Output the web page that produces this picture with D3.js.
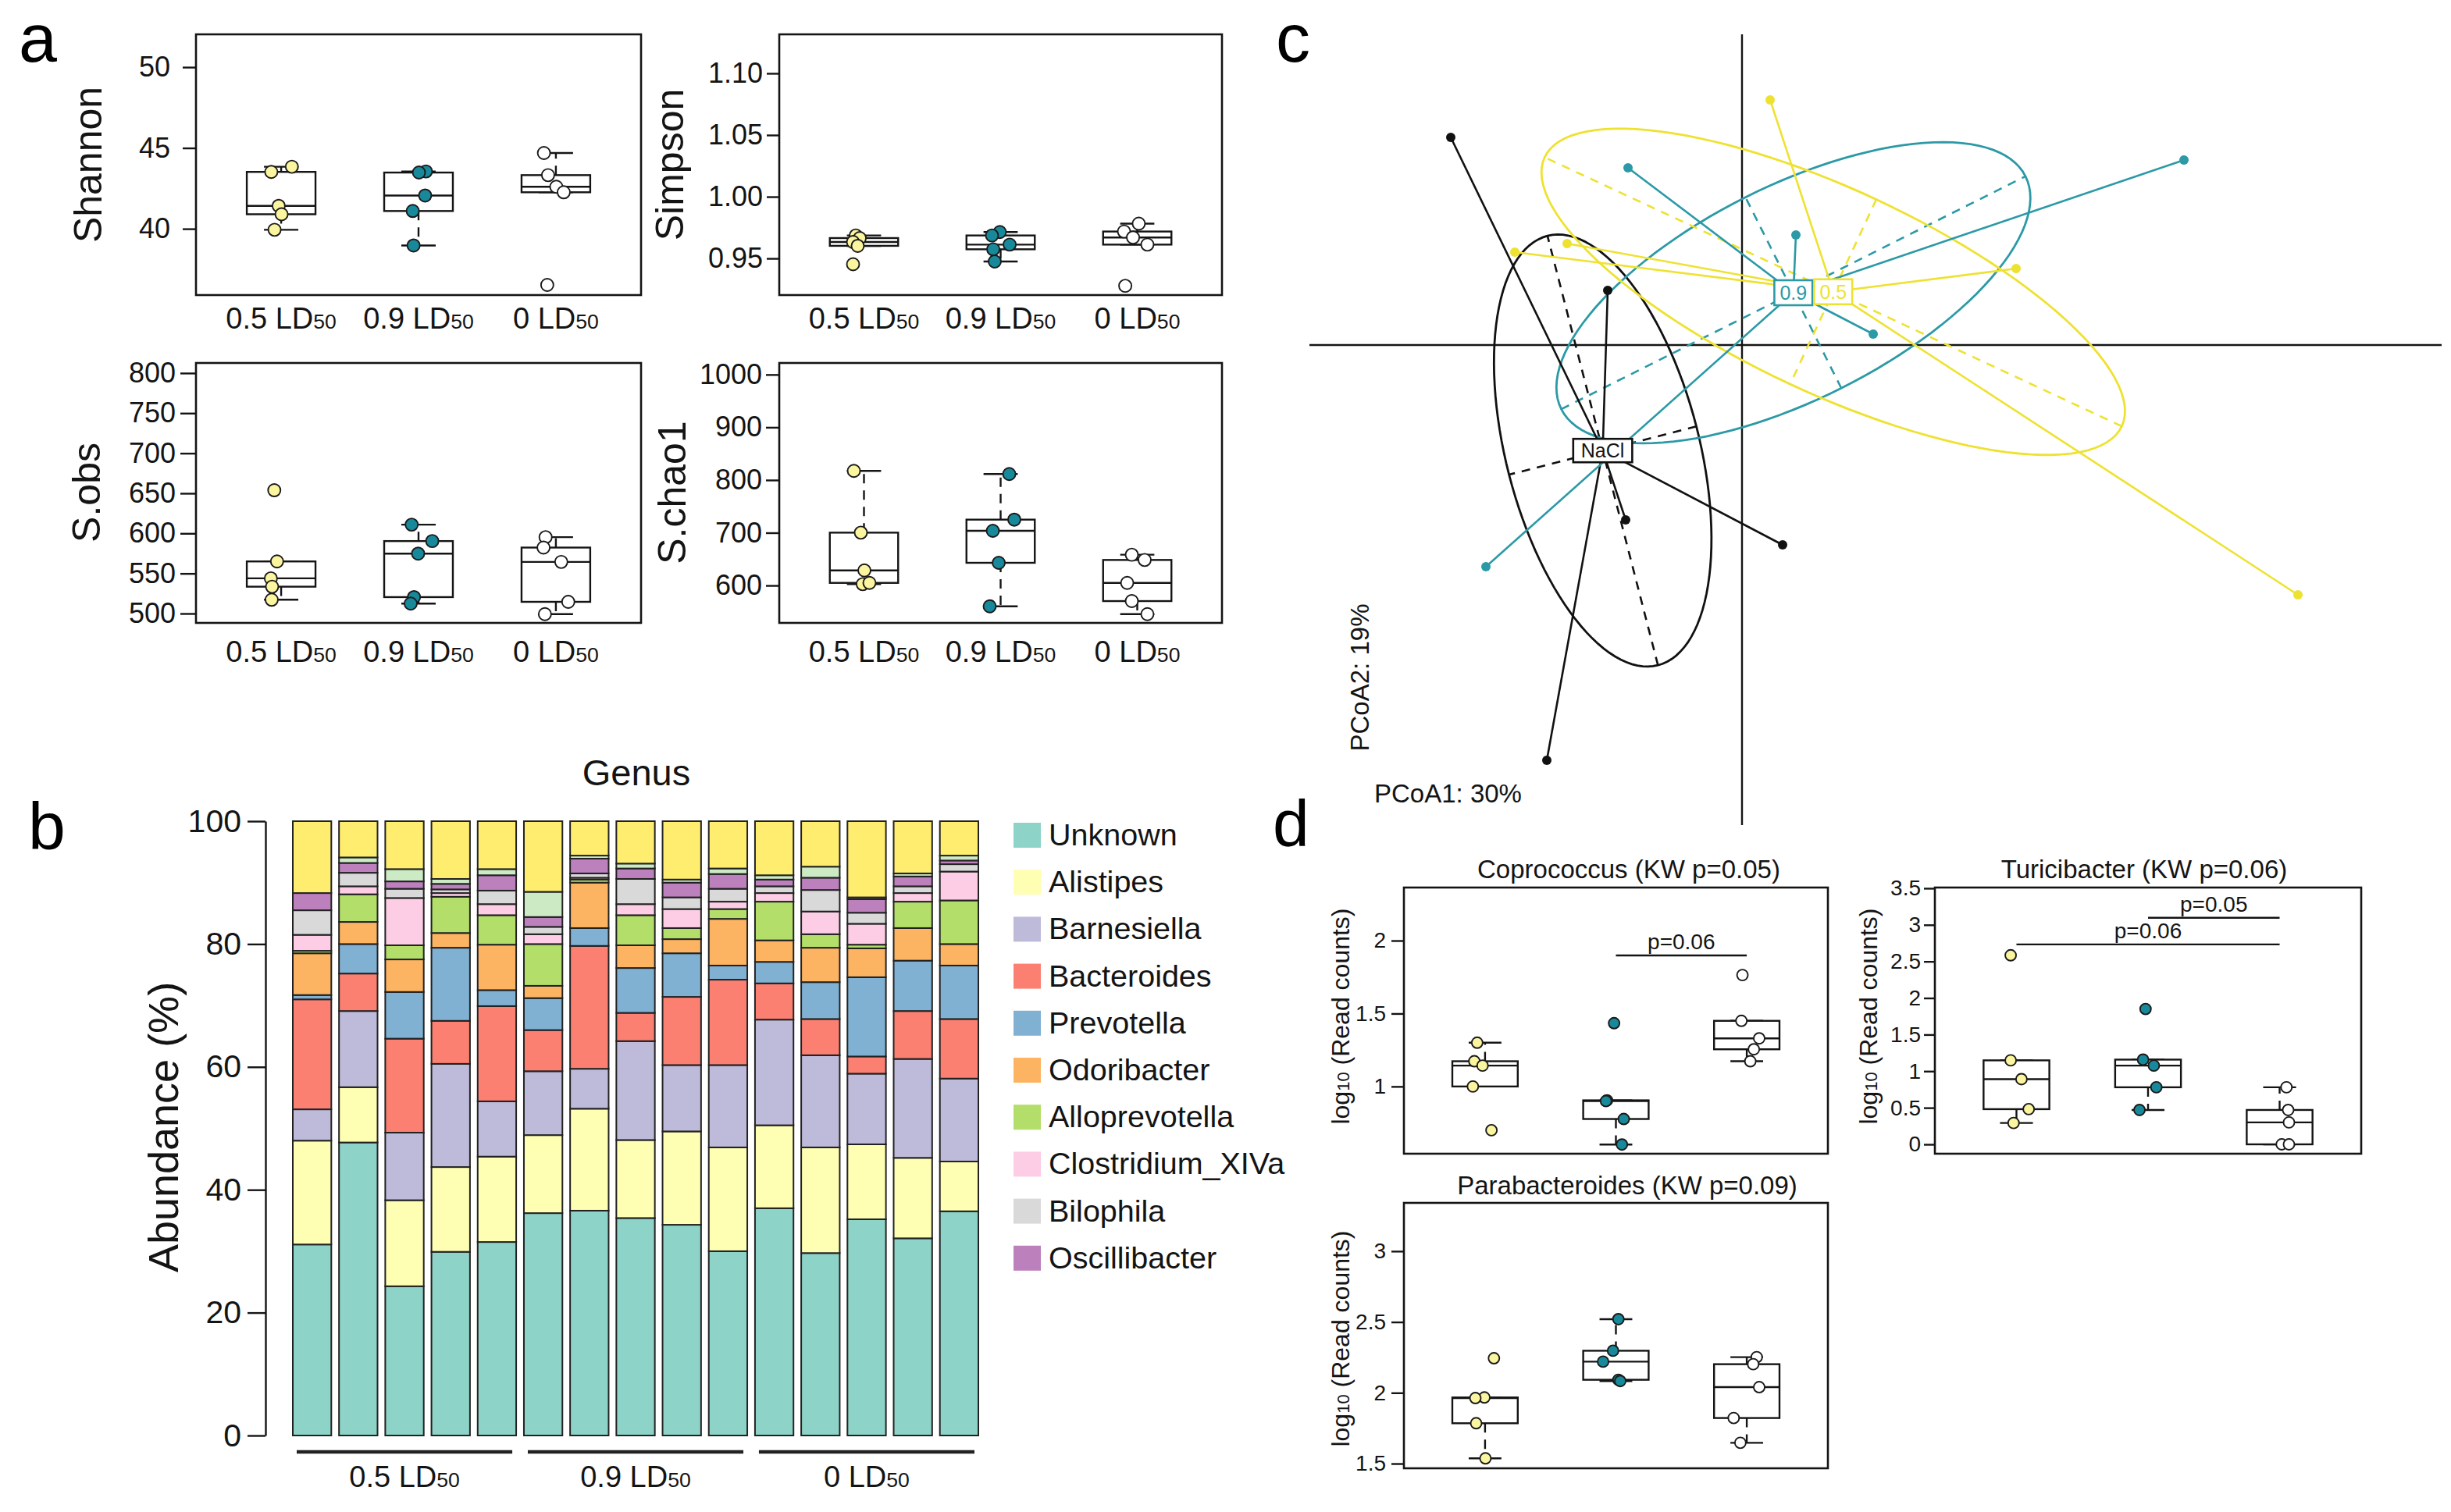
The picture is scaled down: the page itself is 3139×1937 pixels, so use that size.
<!DOCTYPE html>
<html>
<head>
<meta charset="utf-8">
<script src="https://cdn.jsdelivr.net/npm/d3@7/dist/d3.min.js"></script>
<style>
html,body{margin:0;padding:0;background:#fff;}
svg{display:block;}
</style>
</head>
<body>
<svg id="fig" width="3139" height="1937" xmlns="http://www.w3.org/2000/svg"></svg>
<script>
// ===================== DATA =====================
const doseGroups = ["0.5", "0.9", "0"];          // LD50 dose groups

// ---- panel a: alpha diversity (5 mice per group) ----
const shannonVals = [[43.84,43.52,41.42,40.90,39.94],[43.55,43.48,42.06,41.10,38.97],[44.69,43.32,42.60,42.26,36.53]];
const shannonJitter = [[0.078,-0.072,-0.018,0.003,-0.048],[0.054,0.003,0.048,-0.042,-0.036],[-0.087,-0.057,0.003,0.057,-0.063]];
const shannonTicks = [40,45,50];

const simpsonVals = [[0.9686,0.9665,0.9633,0.9602,0.9453],[0.9714,0.9686,0.9574,0.9612,0.9475],[0.9782,0.9718,0.9670,0.9612,0.9278]];
const simpsonJitter = [[-0.06,-0.031,-0.08,-0.046,-0.08],[-0.006,-0.063,-0.054,0.066,-0.043],[0.011,-0.097,-0.031,0.074,-0.088]];
const simpsonTicks = [0.95,1.00,1.05,1.10];

const sobsVals = [[653.8,565.0,543.9,533.5,517.2],[610.9,590.4,574.8,520.5,512.4],[595.3,582.3,564.4,514.6,499.3]];
const sobsJitter = [[-0.05,-0.03,-0.075,-0.066,-0.069],[-0.05,0.1,-0.003,-0.033,-0.057],[-0.075,-0.09,0.039,0.09,-0.08]];
const sobsTicks = [500,550,600,650,700,750,800];

const schaoVals = [[817.3,700.2,628.6,602.5,604.9],[811.4,724.9,703.7,643.0,560.5],[658.3,648.4,604.9,570.4,545.7]];
const schaoJitter = [[-0.074,-0.023,0.003,-0.009,0.04],[0.063,0.1,-0.057,-0.014,-0.08],[-0.04,0.054,-0.074,-0.04,0.074]];
const schaoTicks = [600,700,800,900,1000];

// ---- panel b: genus relative abundance (%), 15 samples ----
const sampleIds = ["S1","S2","S3","S4","S5","S6","S7","S8","S9","S10","S11","S12","S13","S14","S15"];
const sampleGroup = ["0.5","0.5","0.5","0.5","0.5","0.9","0.9","0.9","0.9","0.9","0","0","0","0","0"];
const genusNames = ["Unknown","Alistipes","Barnesiella","Bacteroides","Prevotella","Odoribacter","Alloprevotella","Clostridium_XIVa","Bilophila","Oscillibacter"];
const unknownAb      = [31.1,47.7,24.3,29.9,31.5,36.2,36.6,35.4,34.3,30.0,37.0,29.7,35.2,32.1,36.5];
const alistipesAb    = [16.9,9.0,14.0,13.8,13.9,12.7,16.6,12.7,15.2,16.9,13.5,17.2,12.2,13.1,8.1];
const barnesiellaAb  = [5.1,12.4,11.0,16.8,9.0,10.4,6.5,16.1,10.8,13.4,17.2,15.0,11.5,16.1,13.5];
const bacteroidesAb  = [17.9,6.1,15.3,7.0,15.5,6.7,20.0,4.6,11.1,13.9,5.9,5.9,2.8,7.8,9.7];
const prevotellaAb   = [0.7,4.8,7.6,11.9,2.6,5.2,2.9,7.3,7.1,2.3,3.5,6.0,12.9,8.2,8.7];
const odoribacterAb  = [6.8,3.6,5.3,2.4,7.4,2.0,7.4,3.7,2.3,7.6,3.5,5.6,4.7,5.3,3.5];
const alloprevAb     = [0.4,4.5,2.3,5.9,4.8,6.8,0.5,4.9,1.8,1.6,6.3,2.2,0.6,4.3,7.1];
const clostridiumAb  = [2.6,1.3,7.7,0.6,1.8,1.6,0.3,1.8,3.1,1.2,1.4,3.7,3.4,1.4,4.7];
const bilophilaAb    = [4.0,2.2,1.5,0.6,2.2,1.2,0.7,4.1,1.9,2.1,1.1,3.5,1.8,1.1,1.2];
const oscillibactAb  = [2.8,1.6,1.2,0.9,2.5,1.6,2.4,1.7,2.4,2.4,1.1,2.0,2.2,1.6,0.6];
const minorGenusAb   = [0.0,0.9,2.0,0.8,1.0,4.1,0.5,0.8,0.5,0.9,0.7,1.8,0.3,0.5,0.8];
const othersAb       = [11.7,5.9,7.8,9.4,7.8,11.5,5.6,6.9,9.5,7.7,8.8,7.4,12.4,8.5,5.6];
const abundanceTicks = [0,20,40,60,80,100];

// ---- panel c: PCoA ----
const pcoaGroup = ["0","0","0","0","0","0.9","0.9","0.9","0.9","0.9","0.5","0.5","0.5","0.5","0.5"];
const pcoa1 = [-0.373,-0.172,-0.149,0.052,-0.250, -0.146,0.069,0.566,0.168,-0.328, 0.036,-0.291,-0.224,0.351,0.712];
const pcoa2 = [0.266,0.070,-0.224,-0.256,-0.532, 0.227,0.141,0.237,0.014,-0.284, 0.314,0.119,0.130,0.098,-0.320];
const centroidNames = {"0":"NaCl","0.9":"0.9","0.5":"0.5"};
const pcoaAxisTitles = ["PCoA1: 30%","PCoA2: 19%"];

// ---- panel d: log10 read counts ----
const coproVals = [[1.30,1.173,1.143,1.00,0.70],[1.434,0.905,0.900,0.777,0.602],[1.764,1.45,1.33,1.255,1.173]];
const coproJitter = [[-0.06,-0.082,-0.019,-0.093,0.049],[-0.014,-0.068,-0.076,0.06,0.046],[-0.033,-0.041,0.095,0.054,0.027]];
const coproTicks = [1,1.5,2];
const coproSig = [{from:2,to:3,at:1.898,label:"p=0.06"}];

const turiVals = [[2.584,1.148,0.891,0.481,0.292],[1.85,1.158,1.076,0.78,0.47],[0.78,0.47,0.30,0,0]];
const turiJitter = [[-0.044,-0.044,0.038,0.093,-0.022],[-0.019,-0.038,0.044,0.063,-0.065],[0.052,0.065,0.071,0.016,0.071]];
const turiTicks = [0,0.5,1,1.5,2,2.5,3,3.5];
const turiSig = [{from:1,to:3,at:2.733,label:"p=0.06"},{from:2,to:3,at:3.097,label:"p=0.05"}];

const paraVals = [[2.244,1.967,1.963,1.785,1.537],[2.52,2.297,2.22,2.092,2.083],[2.252,2.202,2.04,1.822,1.647]];
const paraJitter = [[0.068,-0.005,-0.074,-0.068,0.003],[0.019,-0.022,-0.098,0.019,0.033],[0.076,0.049,0.095,-0.1,-0.049]];
const paraTicks = [1.5,2,2.5,3];

// ===================== STYLE =====================
const FONT = "Arial, 'Liberation Sans', Helvetica, sans-serif";
const INK = "#141414";
const groupFill = ["#FAF59E", "#17899A", "#FFFFFF"];
const genusColors = ["#8DD3C7","#FFFFB3","#BEBADA","#FB8072","#80B1D3","#FDB462","#B3DE69","#FCCDE5","#D9D9D9","#BC80BD","#CCEBC5","#FFED6F"];
const pcoaColors = {"0":"#111111","0.9":"#2B9AA6","0.5":"#EEE231"};

const svg = d3.select("#fig");
svg.append("rect").attr("width",3139).attr("height",1937).attr("fill","#fff");

function fivenum(a){
  const s=a.slice().sort((p,q)=>p-q), n=s.length;
  const n4=Math.floor((n+3)/2)/2;
  const d=[1,n4,(n+1)/2,n+1-n4,n];
  return d.map(v=>0.5*(s[Math.floor(v)-1]+s[Math.ceil(v)-1]));
}

function ldText(sel, dose, fs){
  sel.append("tspan").text(dose+" LD");
  sel.append("tspan").attr("font-size",fs*0.7).text("50");
}

function rotTitle(parent, cx, cy, fs, build){
  const t = parent.append("text").attr("transform",`translate(${cx},${cy}) rotate(-90)`)
    .attr("text-anchor","middle").attr("dy","0.35em").attr("font-size",fs).attr("font-family",FONT).attr("fill",INK);
  build(t);
  return t;
}

function boxPanel(cfg){
  const g = svg.append("g");
  const x = d3.scaleLinear().domain([0.38,3.62]).range([cfg.x0,cfg.x1]);
  const y = d3.scaleLinear().domain(cfg.domain).range([cfg.y1,cfg.y0]);
  const ax = g.append("g").attr("transform",`translate(${cfg.x0},0)`)
    .call(d3.axisLeft(y).tickValues(cfg.ticks).tickFormat(cfg.fmt).tickSize(cfg.tickLen).tickPadding(cfg.tickPad));
  ax.select(".domain").remove();
  ax.attr("font-family",FONT).attr("font-size",cfg.tickFs);
  ax.selectAll(".tick line").attr("stroke",INK).attr("stroke-width",2.4);
  ax.selectAll(".tick text").attr("fill",INK);

  cfg.vals.forEach((vals,i)=>{
    const c=i+1, f=fivenum(vals), iqr=f[3]-f[1];
    const hi=d3.max(vals.filter(v=>v<=f[3]+1.5*iqr)), lo=d3.min(vals.filter(v=>v>=f[1]-1.5*iqr));
    const bg=g.append("g").attr("stroke",INK).attr("stroke-width",2.4).attr("fill","none");
    [[f[3],hi],[f[1],lo]].forEach(([a,b])=>{
      if(Math.abs(a-b)>1e-9) bg.append("line").attr("x1",x(c)).attr("x2",x(c)).attr("y1",y(a)).attr("y2",y(b)).attr("stroke-dasharray","12,9");
      bg.append("line").attr("x1",x(c-0.125)).attr("x2",x(c+0.125)).attr("y1",y(b)).attr("y2",y(b));
    });
    bg.append("rect").attr("x",x(c-0.25)).attr("width",x(c+0.25)-x(c-0.25))
      .attr("y",y(f[3])).attr("height",y(f[1])-y(f[3])).attr("fill","#fff");
    bg.append("line").attr("x1",x(c-0.25)).attr("x2",x(c+0.25)).attr("y1",y(f[2])).attr("y2",y(f[2]));
  });
  cfg.vals.forEach((vals,i)=>{
    g.append("g").selectAll("circle").data(vals).join("circle")
      .attr("cx",(v,j)=>x(i+1+cfg.jit[i][j])).attr("cy",v=>y(v)).attr("r",cfg.r)
      .attr("fill",groupFill[i]).attr("stroke","#1a1a1a").attr("stroke-width",1.9);
  });
  g.append("rect").attr("x",cfg.x0).attr("y",cfg.y0).attr("width",cfg.x1-cfg.x0).attr("height",cfg.y1-cfg.y0)
    .attr("fill","none").attr("stroke",INK).attr("stroke-width",2.6);

  if(cfg.xLabelY){
    doseGroups.forEach((d,i)=>{
      const t=g.append("text").attr("x",x(i+1)).attr("y",cfg.xLabelY).attr("text-anchor","middle")
        .attr("font-family",FONT).attr("font-size",cfg.xFs).attr("fill",INK);
      ldText(t,d,cfg.xFs);
    });
  }
  if(cfg.title){
    g.append("text").attr("x",cfg.titleX).attr("y",cfg.titleY).attr("text-anchor","middle")
      .attr("font-family",FONT).attr("font-size",cfg.titleFs).attr("fill",INK).text(cfg.title);
  }
  (cfg.sig||[]).forEach(s=>{
    g.append("line").attr("x1",x(s.from)).attr("x2",x(s.to)).attr("y1",y(s.at)).attr("y2",y(s.at))
      .attr("stroke",INK).attr("stroke-width",2.4);
    g.append("text").attr("x",(x(s.from)+x(s.to))/2).attr("y",y(s.at)-8).attr("text-anchor","middle")
      .attr("font-family",FONT).attr("font-size",cfg.sigFs).attr("fill",INK).text(s.label);
  });
  rotTitle(g, cfg.ytX, cfg.ytY, cfg.ytFs, cfg.ytBuild);
  return {g,x,y};
}

const plain = s => (t=>t.text(s));
const logTitle = t=>{ t.append("tspan").text("log"); t.append("tspan").attr("font-size",22).text("10"); t.append("tspan").text(" (Read counts)"); };

// ===================== PANEL a =====================
const aCommon = {r:8, tickFs:36, xFs:38, ytFs:50};
boxPanel({...aCommon, x0:251,x1:821,y0:44,y1:378, domain:[35.9,52.03], ticks:shannonTicks, fmt:d=>String(d),
  tickLen:17, tickPad:16, vals:shannonVals, jit:shannonJitter, xLabelY:421, ytX:112, ytY:211, ytBuild:plain("Shannon")});
boxPanel({...aCommon, x0:998,x1:1565,y0:44,y1:378, domain:[0.9203,1.1316], ticks:simpsonTicks, fmt:d=>d.toFixed(2),
  tickLen:16, tickPad:5, vals:simpsonVals, jit:simpsonJitter, xLabelY:421, ytX:857, ytY:211, ytBuild:plain("Simpson")});
boxPanel({...aCommon, x0:251,x1:821,y0:465,y1:798, domain:[488.3,812.6], ticks:sobsTicks, fmt:d=>String(d),
  tickLen:20, tickPad:6, vals:sobsVals, jit:sobsJitter, xLabelY:848, ytX:110, ytY:631, ytBuild:plain("S.obs")});
boxPanel({...aCommon, x0:998,x1:1565,y0:465,y1:798, domain:[529,1022], ticks:schaoTicks, fmt:d=>String(d),
  tickLen:17, tickPad:5, vals:schaoVals, jit:schaoJitter, xLabelY:848, ytX:860, ytY:631, ytBuild:plain("S.chao1")});

// ===================== PANEL b =====================
(function(){
  const g = svg.append("g");
  const series = [unknownAb,alistipesAb,barnesiellaAb,bacteroidesAb,prevotellaAb,odoribacterAb,alloprevAb,clostridiumAb,bilophilaAb,oscillibactAb,minorGenusAb,othersAb];
  const keys = genusNames.concat(["minor","Others"]);
  const rows = sampleIds.map((s,i)=>{ const r={sample:s}; keys.forEach((k,j)=>r[k]=series[j][i]); return r; });
  const stacked = d3.stack().keys(keys)(rows);
  const xb = d3.scaleBand().domain(sampleIds).range([375,1253]).paddingInner(0.167).paddingOuter(0);
  const yb = d3.scaleLinear().domain([0,100]).range([1839,1052]);
  stacked.forEach((layer,li)=>{
    g.append("g").selectAll("rect").data(layer).join("rect")
      .attr("x",d=>xb(d.data.sample)).attr("width",xb.bandwidth())
      .attr("y",d=>yb(d[1])).attr("height",d=>Math.max(0,yb(d[0])-yb(d[1])))
      .attr("fill",genusColors[li]).attr("stroke","#222").attr("stroke-width",2);
  });
  const ax = g.append("g").attr("transform","translate(340,0)")
    .call(d3.axisLeft(yb).tickValues(abundanceTicks).tickSize(23).tickSizeOuter(0).tickPadding(8));
  ax.attr("font-family",FONT).attr("font-size",41);
  ax.selectAll("line,path").attr("stroke",INK).attr("stroke-width",2.4);
  ax.selectAll(".tick text").attr("fill",INK);
  rotTitle(g, 209, 1444, 54, plain("Abundance (%)"));
  g.append("text").attr("x",815).attr("y",1006).attr("text-anchor","middle").attr("font-family",FONT)
    .attr("font-size",47).attr("fill",INK).text("Genus");
  doseGroups.forEach(d=>{
    const ids = sampleIds.filter((s,i)=>sampleGroup[i]===d);
    const xa = xb(ids[0])+5, xz = xb(ids[ids.length-1])+xb.bandwidth()-5;
    g.append("line").attr("x1",xa).attr("x2",xz).attr("y1",1860).attr("y2",1860).attr("stroke","#222").attr("stroke-width",4.5);
    const t=g.append("text").attr("x",(xa+xz)/2).attr("y",1905).attr("text-anchor","middle")
      .attr("font-family",FONT).attr("font-size",38).attr("fill",INK);
    ldText(t,d,38);
  });
  const leg = g.append("g");
  genusNames.forEach((n,i)=>{
    const cy = 1070 + i*60.2;
    leg.append("rect").attr("x",1298).attr("y",cy-16).attr("width",35).attr("height",32).attr("fill",genusColors[i]);
    leg.append("text").attr("x",1343).attr("y",cy+13).attr("font-family",FONT).attr("font-size",39.5).attr("fill",INK).text(n);
  });
})();

// ===================== PANEL c =====================
(function(){
  const g = svg.append("g");
  const xc = d3.scaleLinear().domain([-0.554,0.896]).range([1677,3127]);
  const yc = d3.scaleLinear().domain([-0.615,0.398]).range([1057,44]);
  g.append("line").attr("x1",xc.range()[0]).attr("x2",xc.range()[1]).attr("y1",yc(0)).attr("y2",yc(0)).attr("stroke",INK).attr("stroke-width",2.4);
  g.append("line").attr("x1",xc(0)).attr("x2",xc(0)).attr("y1",yc.range()[1]).attr("y2",yc.range()[0]).attr("stroke",INK).attr("stroke-width",2.4);

  const order = ["0","0.9","0.5"];
  const info = {};
  order.forEach(k=>{
    const pts = pcoa1.map((v,i)=>[v,pcoa2[i],pcoaGroup[i]]).filter(p=>p[2]===k);
    const n=pts.length, mx=d3.mean(pts,p=>p[0]), my=d3.mean(pts,p=>p[1]);
    let sxx=0,syy=0,sxy=0;
    pts.forEach(p=>{const dx=p[0]-mx, dy=p[1]-my; sxx+=dx*dx; syy+=dy*dy; sxy+=dx*dy;});
    sxx/=n; syy/=n; sxy/=n;
    const tr=sxx+syy, det=sxx*syy-sxy*sxy, disc=Math.sqrt(Math.max(0,tr*tr/4-det));
    const l1=tr/2+disc, l2=tr/2-disc;
    let v1=[sxy, l1-sxx]; const nn=Math.hypot(v1[0],v1[1]); v1=[v1[0]/nn,v1[1]/nn];
    const v2=[-v1[1],v1[0]];
    info[k]={pts,mx,my,a:Math.sqrt(l1),b:Math.sqrt(Math.max(0,l2)),v1,v2};
  });
  order.forEach(k=>{
    const e=info[k], col=pcoaColors[k];
    const ring=d3.range(0,361,3).map(dg=>{const t=dg*Math.PI/180;
      return [e.mx+e.a*Math.cos(t)*e.v1[0]+e.b*Math.sin(t)*e.v2[0], e.my+e.a*Math.cos(t)*e.v1[1]+e.b*Math.sin(t)*e.v2[1]];});
    g.append("path").attr("d",d3.line().x(p=>xc(p[0])).y(p=>yc(p[1])).curve(d3.curveLinearClosed)(ring))
      .attr("fill","none").attr("stroke",col).attr("stroke-width",2.8);
    [[e.a,e.v1],[e.b,e.v2]].forEach(([r,v])=>{
      g.append("line").attr("x1",xc(e.mx-r*v[0])).attr("y1",yc(e.my-r*v[1])).attr("x2",xc(e.mx+r*v[0])).attr("y2",yc(e.my+r*v[1]))
        .attr("stroke",col).attr("stroke-width",2.6).attr("stroke-dasharray","11,9");
    });
  });
  order.forEach(k=>{
    const e=info[k], col=pcoaColors[k];
    e.pts.forEach(p=>{
      g.append("line").attr("x1",xc(e.mx)).attr("y1",yc(e.my)).attr("x2",xc(p[0])).attr("y2",yc(p[1]))
        .attr("stroke",col).attr("stroke-width",2.6);
    });
  });
  order.forEach(k=>{
    g.append("g").selectAll("circle").data(info[k].pts).join("circle")
      .attr("cx",p=>xc(p[0])).attr("cy",p=>yc(p[1])).attr("r",6).attr("fill",pcoaColors[k]);
  });
  order.forEach(k=>{
    const e=info[k], col=pcoaColors[k];
    const lg=g.append("g");
    const rect=lg.append("rect");
    const t=lg.append("text").attr("x",xc(e.mx)).attr("y",yc(e.my)).attr("dy","0.36em").attr("text-anchor","middle")
      .attr("font-family",FONT).attr("font-size",25).attr("fill",k==="0"?INK:col).text(centroidNames[k]);
    const w=t.node().getComputedTextLength()+(k==="0"?20:14), h=k==="0"?30:32;
    rect.attr("x",xc(e.mx)-w/2).attr("y",yc(e.my)-h/2).attr("width",w).attr("height",h)
      .attr("fill","#fff").attr("stroke",col).attr("stroke-width",2.6);
  });
  g.append("text").attr("x",1760).attr("y",1028).attr("font-family",FONT).attr("font-size",33).attr("fill",INK).text(pcoaAxisTitles[0]);
  rotTitle(g, 1741, 868, 33, plain(pcoaAxisTitles[1]));
})();

// ===================== PANEL d =====================
const dCommon = {r:7, tickFs:28, ytFs:32, titleFs:33, sigFs:28, ytBuild:logTitle};
boxPanel({...dCommon, x0:1798,x1:2341,y0:1137,y1:1478, domain:[0.539,2.364], ticks:coproTicks, fmt:d=>String(d),
  tickLen:16, tickPad:7, vals:coproVals, jit:coproJitter, title:"Coprococcus (KW p=0.05)", titleX:2086, titleY:1125,
  sig:coproSig, ytX:1717, ytY:1302});
boxPanel({...dCommon, x0:2478,x1:3024,y0:1137,y1:1478, domain:[-0.128,3.51], ticks:turiTicks, fmt:d=>String(d),
  tickLen:14, tickPad:4, vals:turiVals, jit:turiJitter, title:"Turicibacter (KW p=0.06)", titleX:2746, titleY:1125,
  sig:turiSig, ytX:2393, ytY:1302});
boxPanel({...dCommon, x0:1798,x1:2341,y0:1541,y1:1881, domain:[1.467,3.341], ticks:paraTicks, fmt:d=>String(d),
  tickLen:16, tickPad:7, vals:paraVals, jit:paraJitter, title:"Parabacteroides (KW p=0.09)", titleX:2084, titleY:1530,
  ytX:1717, ytY:1715});

// ===================== panel letters =====================
[["a",24,79,88],["b",36,1088,86],["c",1634,79,88],["d",1630,1084,84]].forEach(([l,x,y,fs])=>{
  svg.append("text").attr("x",x).attr("y",y).attr("font-family",FONT).attr("font-size",fs).attr("fill","#000").text(l);
});
</script>
</body>
</html>
